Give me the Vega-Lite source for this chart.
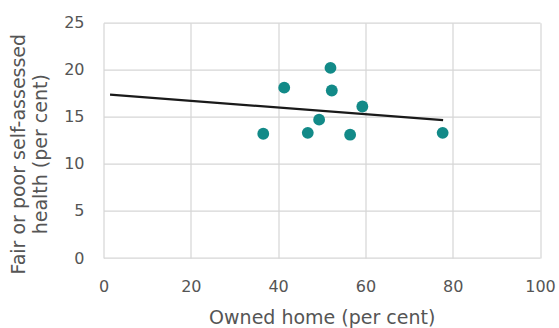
{
  "$schema": "https://vega.github.io/schema/vega-lite/v6.json",
  "width": 436.5,
  "height": 235.3,
  "autosize": {"type": "none"},
  "padding": {"left": 103.5, "top": 22.7, "right": 19, "bottom": 70},
  "background": "white",
  "config": {
    "view": {"stroke": null},
    "font": "DejaVu Sans",
    "axis": {
      "grid": true,
      "gridColor": "#d6d6d6",
      "gridWidth": 1.2,
      "domain": false,
      "ticks": false,
      "tickSize": 0,
      "labelColor": "#555555",
      "labelFont": "DejaVu Sans",
      "labelFontSize": 16,
      "titleColor": "#555555",
      "titleFont": "DejaVu Sans",
      "titleFontSize": 19,
      "titleFontWeight": "normal"
    }
  },
  "datasets": {
    "points": [
      {"owned": 36.6, "health": 13.2},
      {"owned": 41.4, "health": 18.1},
      {"owned": 52.0, "health": 20.2},
      {"owned": 52.3, "health": 17.8},
      {"owned": 59.3, "health": 16.1},
      {"owned": 49.4, "health": 14.7},
      {"owned": 46.8, "health": 13.3},
      {"owned": 56.5, "health": 13.1},
      {"owned": 77.7, "health": 13.3}
    ],
    "trend": [
      {"owned": 1.5, "health": 17.35},
      {"owned": 77.8, "health": 14.65}
    ]
  },
  "layer": [
    {
      "data": {"name": "trend"},
      "mark": {"type": "line", "color": "#1a1a1a", "strokeWidth": 2.2},
      "encoding": {
        "x": {"field": "owned", "type": "quantitative"},
        "y": {"field": "health", "type": "quantitative"}
      }
    },
    {
      "data": {"name": "points"},
      "mark": {"type": "circle", "color": "#128a88", "opacity": 1, "size": 140},
      "encoding": {
        "x": {
          "field": "owned",
          "type": "quantitative",
          "scale": {"domain": [0, 100], "nice": false, "zero": false},
          "axis": {
            "values": [0, 20, 40, 60, 80, 100],
            "labelPadding": 20,
            "labelFlush": false,
            "title": "Owned home (per cent)",
            "titleBaseline": "alphabetic",
            "titleY": 65
          }
        },
        "y": {
          "field": "health",
          "type": "quantitative",
          "scale": {"domain": [0, 25], "nice": false, "zero": false},
          "axis": {
            "values": [0, 5, 10, 15, 20, 25],
            "labelPadding": 19.5,
            "labelFlush": false,
            "title": ["Fair or poor self-assessed", "health (per cent)"],
            "titleAngle": -90,
            "titleAlign": "center",
            "titleBaseline": "top",
            "titleX": -94,
            "titleY": 131,
            "titleLineHeight": 22
          }
        }
      }
    }
  ]
}
